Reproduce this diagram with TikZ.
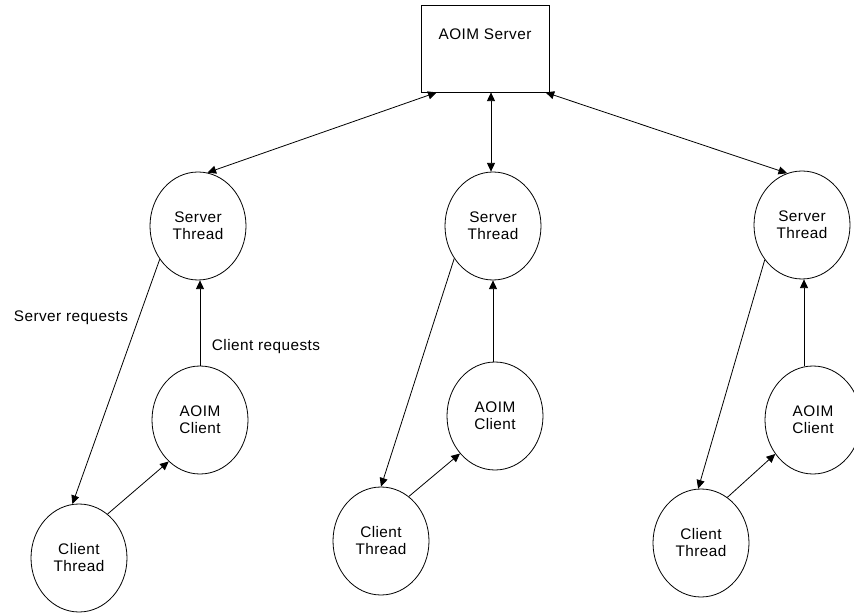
\documentclass[tikz,border=0pt]{standalone}
\usepackage{fontspec}
\setmainfont[LetterSpace=3]{Liberation Sans}
\usetikzlibrary{shapes.geometric,arrows.meta,calc}
\begin{document}
\begin{tikzpicture}[x=0.75pt,y=-0.75pt,
  every node/.style={font=\fontsize{11.5}{12.75}\selectfont},
  proc/.style={draw,ellipse,line width=0.6pt,minimum width=72pt,minimum height=81pt,inner sep=0pt,align=center},
  srvbox/.style={draw,rectangle,line width=0.6pt,minimum width=96pt,minimum height=65.25pt,inner sep=0pt},
  conn/.style={line width=0.6pt,-{Triangle[length=6.5pt,width=6pt]}},
  biconn/.style={line width=0.6pt,{Triangle[length=6.5pt,width=6pt]}-{Triangle[length=6.5pt,width=6pt]}},
  lbl/.style={inner sep=0pt}]
\useasboundingbox (0,0) rectangle (854,613);
% server
\node[srvbox,label={[name=srvtxt,yshift=10.9pt]center:AOIM Server}] (srv) at (485,48.5) {};
% left group
\node[proc] (st1) at (198,226) {Server\\Thread};
\node[proc] (ac1) at (200,420) {AOIM\\Client};
\node[proc] (ct1) at (79,558) {Client\\Thread};
% middle group
\node[proc] (st2) at (493,226) {Server\\Thread};
\node[proc] (ac2) at (495,416) {AOIM\\Client};
\node[proc] (ct2) at (381,541) {Client\\Thread};
% right group
\node[proc] (st3) at (802,225) {Server\\Thread};
\node[proc] (ac3) at (813,420) {AOIM\\Client};
\node[proc] (ct3) at (701,543) {Client\\Thread};
% labels
\node[lbl] (lsr) at (71,318) {Server requests};
\node[lbl] (lcr) at (266,347) {Client requests};
% server links
\draw[biconn] ($(srv.south west)!0.125!(srv.south east)$) -- (st1.80);
\draw[biconn] (srv.south -| st2.north) ++(-2,0) coordinate (m2) -- (m2 |- st2.north);
\draw[biconn] ($(srv.south west)!0.97!(srv.south east)$) -- (st3.106);
% left
\draw[conn] (st1.221) -- (ct1.97);
\draw[conn] (ct1.57) -- (ac1.233);
\draw[conn] (ac1.north) -- (ac1.north |- st1.south);
% middle
\draw[conn] (st2.220) -- (ct2.north);
\draw[conn] (ct2.58) -- (ac2.227);
\draw[conn] (ac2.north) ++(-2,0) coordinate (m3) -- (m3 |- st2.south);
% right
\draw[conn] (st3.223) -- (ct3.93);
\draw[conn] (ct3.60) -- (ac3.222);
\draw[conn] (ac3.north) ++(-9,0) coordinate (r3) -- (r3 |- st3.south);
\end{tikzpicture}
\end{document}
